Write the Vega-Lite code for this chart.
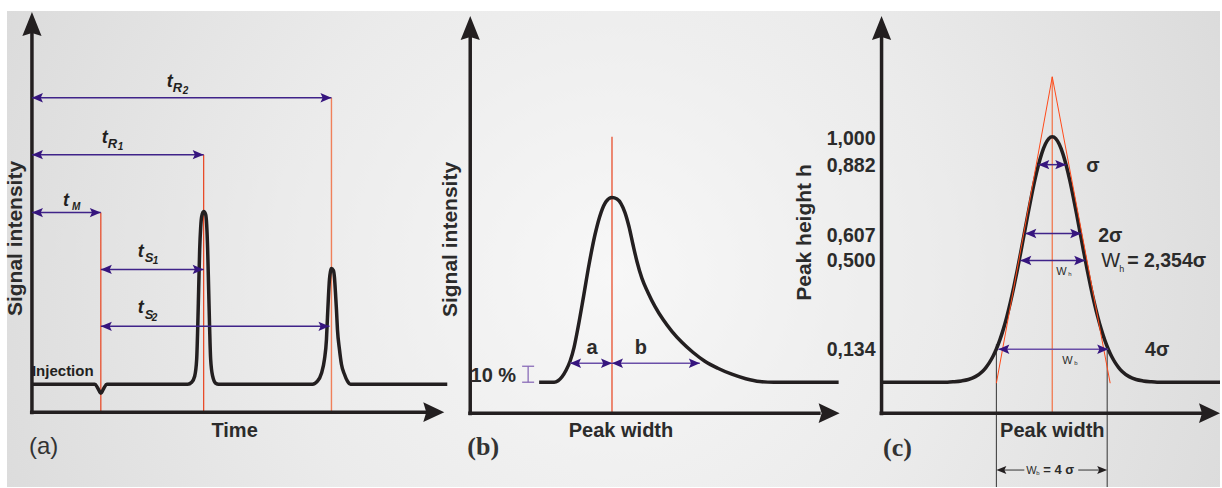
{
"$schema": "https://vega.github.io/schema/vega-lite/v6.json",
"width": 1222, "height": 488,
"autosize": {"type": "fit", "contains": "padding"},
"padding": 0,
"background": "#ffffff",
"config": {"view": {"stroke": null}, "axis": {"disable": true}, "legend": {"disable": true}},
"datasets": {
"bg": [{"x": 7, "x2": 1222, "y": 11, "y2": 488}],
"curves": [
{"id":"a","x":32,"y":385},{"id":"a","x":95,"y":385},{"id":"a","x":98,"y":389},{"id":"a","x":101,"y":394},{"id":"a","x":104,"y":389},{"id":"a","x":107,"y":385},{"id":"a","x":188,"y":385},{"id":"a","x":192,"y":383},{"id":"a","x":195,"y":377},{"id":"a","x":197,"y":360},{"id":"a","x":198,"y":330},{"id":"a","x":199,"y":290},{"id":"a","x":200,"y":250},{"id":"a","x":201,"y":228},{"id":"a","x":202,"y":217},{"id":"a","x":204,"y":212},{"id":"a","x":206,"y":215},{"id":"a","x":207,"y":225},{"id":"a","x":208,"y":250},{"id":"a","x":209,"y":290},{"id":"a","x":210,"y":330},{"id":"a","x":211,"y":360},{"id":"a","x":213,"y":377},{"id":"a","x":216,"y":384},{"id":"a","x":219,"y":385},{"id":"a","x":313,"y":385},{"id":"a","x":318,"y":382},{"id":"a","x":322,"y":374},{"id":"a","x":325,"y":360},{"id":"a","x":327,"y":340},{"id":"a","x":328,"y":318},{"id":"a","x":329,"y":297},{"id":"a","x":330,"y":280},{"id":"a","x":331,"y":272},{"id":"a","x":332,"y":269},{"id":"a","x":334,"y":271},{"id":"a","x":335,"y":278},{"id":"a","x":336,"y":293},{"id":"a","x":337,"y":310},{"id":"a","x":338,"y":330},{"id":"a","x":340,"y":350},{"id":"a","x":342,"y":365},{"id":"a","x":345,"y":375},{"id":"a","x":348,"y":382},{"id":"a","x":351,"y":385},{"id":"a","x":448,"y":385},
{"id":"b","x":540,"y":383},{"id":"b","x":555,"y":383},{"id":"b","x":559,"y":381.5},{"id":"b","x":563,"y":377.5},{"id":"b","x":567,"y":371},{"id":"b","x":571,"y":362},{"id":"b","x":575,"y":348},{"id":"b","x":579,"y":328},{"id":"b","x":584,"y":300},{"id":"b","x":590,"y":265},{"id":"b","x":596,"y":235},{"id":"b","x":602,"y":213},{"id":"b","x":607,"y":202},{"id":"b","x":613,"y":198},{"id":"b","x":618,"y":199.5},{"id":"b","x":622,"y":204},{"id":"b","x":626,"y":213},{"id":"b","x":630,"y":227},{"id":"b","x":634,"y":245},{"id":"b","x":638,"y":262},{"id":"b","x":643,"y":279},{"id":"b","x":649,"y":293},{"id":"b","x":656,"y":307},{"id":"b","x":664,"y":320},{"id":"b","x":673,"y":332},{"id":"b","x":683,"y":343},{"id":"b","x":694,"y":353},{"id":"b","x":706,"y":362},{"id":"b","x":719,"y":369},{"id":"b","x":733,"y":375},{"id":"b","x":747,"y":379.5},{"id":"b","x":761,"y":382.3},{"id":"b","x":775,"y":383},{"id":"b","x":840,"y":383},
{"id":"c","x":883,"y":383},{"id":"c","x":949,"y":383},{"id":"c","x":956,"y":382.5},{"id":"c","x":963,"y":381.7},{"id":"c","x":970,"y":380.3},{"id":"c","x":977,"y":377.4},{"id":"c","x":984,"y":372.2},{"id":"c","x":987.5,"y":368.3},{"id":"c","x":991,"y":363.4},{"id":"c","x":994.5,"y":357.3},{"id":"c","x":998,"y":349.7},{"id":"c","x":1001.5,"y":340.6},{"id":"c","x":1005,"y":329.8},{"id":"c","x":1008.5,"y":317.3},{"id":"c","x":1012,"y":303.1},{"id":"c","x":1015.5,"y":287.4},{"id":"c","x":1019,"y":270.4},{"id":"c","x":1022.5,"y":252.4},{"id":"c","x":1026,"y":233.8},{"id":"c","x":1029.5,"y":215.2},{"id":"c","x":1033,"y":197.3},{"id":"c","x":1036.5,"y":180.6},{"id":"c","x":1040,"y":165.9},{"id":"c","x":1043.5,"y":153.7},{"id":"c","x":1047,"y":144.6},{"id":"c","x":1050.5,"y":138.9},{"id":"c","x":1054,"y":137},{"id":"c","x":1057.5,"y":138.9},{"id":"c","x":1061,"y":144.6},{"id":"c","x":1064.5,"y":153.7},{"id":"c","x":1068,"y":165.9},{"id":"c","x":1071.5,"y":180.6},{"id":"c","x":1075,"y":197.3},{"id":"c","x":1078.5,"y":215.2},{"id":"c","x":1082,"y":233.8},{"id":"c","x":1085.5,"y":252.4},{"id":"c","x":1089,"y":270.4},{"id":"c","x":1092.5,"y":287.4},{"id":"c","x":1096,"y":303.1},{"id":"c","x":1099.5,"y":317.3},{"id":"c","x":1103,"y":329.8},{"id":"c","x":1106.5,"y":340.6},{"id":"c","x":1110,"y":349.7},{"id":"c","x":1113.5,"y":357.3},{"id":"c","x":1117,"y":363.4},{"id":"c","x":1120.5,"y":368.3},{"id":"c","x":1124,"y":372.2},{"id":"c","x":1131,"y":377.4},{"id":"c","x":1138,"y":380.3},{"id":"c","x":1145,"y":381.7},{"id":"c","x":1152,"y":382.5},{"id":"c","x":1159,"y":383},{"id":"c","x":1222,"y":383}
],
"segs": [
{"g":"axis","x":32,"y":415,"x2":32,"y2":32},{"g":"axis","x":30,"y":413,"x2":428,"y2":413},
{"g":"axis","x":471,"y":416,"x2":471,"y2":36},{"g":"axis","x":469,"y":414,"x2":822,"y2":414},
{"g":"axis","x":883,"y":416,"x2":883,"y2":36},{"g":"axis","x":881,"y":414,"x2":1205,"y2":414},
{"g":"red","x":101,"y":213,"x2":101,"y2":414},{"g":"red","x":204,"y":155,"x2":204,"y2":414},{"g":"red","x":613,"y":137,"x2":613,"y2":414},
{"g":"redsoft","x":332,"y":98,"x2":332,"y2":414},{"g":"redsoft","x":1054,"y":77,"x2":1054,"y2":414},
{"g":"tangent","x":1054,"y":77,"x2":998,"y2":384},{"g":"tangent","x":1054,"y":77,"x2":1112,"y2":384},
{"g":"thin","x":998,"y":345,"x2":998,"y2":488},{"g":"thin","x":1109,"y":345,"x2":1109,"y2":488},{"g":"thin","x":1005,"y":471,"x2":1026,"y2":471},{"g":"thin","x":1080,"y":471,"x2":1102,"y2":471},
{"g":"dim","x":32,"y":98,"x2":332,"y2":98},{"g":"dim","x":32,"y":155,"x2":204,"y2":155},{"g":"dim","x":32,"y":213,"x2":101,"y2":213},{"g":"dim","x":101,"y":270,"x2":204,"y2":270},{"g":"dim","x":101,"y":327,"x2":330,"y2":327},
{"g":"dim","x":1040,"y":165,"x2":1068,"y2":165},{"g":"dim","x":1027,"y":234,"x2":1083,"y2":234},{"g":"dim","x":1022,"y":261,"x2":1087,"y2":261},{"g":"dimlight","x":1000,"y":350,"x2":1110,"y2":350},
{"g":"dimlight","x":571,"y":364,"x2":613,"y2":364},{"g":"dimlight","x":613,"y":364,"x2":701,"y2":364},
{"g":"bracket","x":529,"y":367,"x2":529,"y2":383},{"g":"bracket","x":523,"y":367,"x2":535,"y2":367},{"g":"bracket","x":523,"y":383,"x2":535,"y2":383}
],
"heads": [
{"g":"axis","dir":"U","x":32,"y":12},{"g":"axis","dir":"U","x":471,"y":16},{"g":"axis","dir":"U","x":883,"y":16},
{"g":"axis","dir":"R","x":445,"y":413},{"g":"axis","dir":"R","x":841,"y":414},{"g":"axis","dir":"R","x":1222,"y":414},
{"g":"dim","dir":"L","x":32,"y":98},{"g":"dim","dir":"R","x":332,"y":98},{"g":"dim","dir":"L","x":32,"y":155},{"g":"dim","dir":"R","x":204,"y":155},{"g":"dim","dir":"L","x":32,"y":213},{"g":"dim","dir":"R","x":101,"y":213},{"g":"dim","dir":"L","x":101,"y":270},{"g":"dim","dir":"R","x":204,"y":270},{"g":"dim","dir":"L","x":101,"y":327},{"g":"dim","dir":"R","x":330,"y":327},
{"g":"dim","dir":"L","x":571,"y":364},{"g":"dim","dir":"R","x":613,"y":364},{"g":"dim","dir":"L","x":613,"y":364},{"g":"dim","dir":"R","x":701,"y":364},
{"g":"dim","dir":"L","x":1040,"y":165},{"g":"dim","dir":"R","x":1068,"y":165},{"g":"dim","dir":"L","x":1027,"y":234},{"g":"dim","dir":"R","x":1083,"y":234},{"g":"dim","dir":"L","x":1022,"y":261},{"g":"dim","dir":"R","x":1087,"y":261},{"g":"dim","dir":"L","x":1000,"y":350},{"g":"dim","dir":"R","x":1110,"y":350},
{"g":"small","dir":"L","x":998,"y":471},{"g":"small","dir":"R","x":1109,"y":471}
],
"labels": [
{"g":"ylab","t":"Signal intensity","x":16,"y":239},{"g":"ylab","t":"Signal intensity","x":452,"y":240},{"g":"ylab","t":"Peak height  h","x":806,"y":233},
{"g":"xlab","t":"Time","x":235,"y":438},{"g":"xlab","t":"Peak width","x":622,"y":438},{"g":"xlab","t":"Peak width","x":1054,"y":438},
{"g":"tick","t":"1,000","x":877,"y":145},{"g":"tick","t":"0,882","x":877,"y":172},{"g":"tick","t":"0,607","x":877,"y":242},{"g":"tick","t":"0,500","x":877,"y":268},{"g":"tick","t":"0,134","x":877,"y":357},
{"g":"sym","t":"σ","x":1088,"y":172},{"g":"sym","t":"2σ","x":1100,"y":242},{"g":"sym","t":"= 2,354σ","x":1129,"y":268},{"g":"sym","t":"4σ","x":1147,"y":357},
{"g":"wbig","t":"W","x":1103,"y":268},{"g":"wbigsub","t":"h","x":1121,"y":273},
{"g":"tit","t":"t","x":167,"y":87},{"g":"tit","t":"t","x":102,"y":143},{"g":"tit","t":"t","x":63,"y":206},{"g":"tit","t":"t","x":138,"y":258},{"g":"tit","t":"t","x":138,"y":314},
{"g":"tsub","t":"R","x":173,"y":92},{"g":"tsub","t":"R","x":108,"y":148},{"g":"tsub","t":"S","x":145,"y":263},{"g":"tsub","t":"S","x":145,"y":320},
{"g":"tsub2","t":"2","x":183,"y":94},{"g":"tsub2","t":"1","x":118,"y":150},{"g":"tsub2","t":"M","x":72,"y":210},{"g":"tsub2","t":"1","x":153,"y":265},{"g":"tsub2","t":"2","x":152,"y":322},
{"g":"inj","t":"Injection","x":32,"y":377},
{"g":"pa","t":"(a)","x":29,"y":455},
{"g":"pbc","t":"(b)","x":484,"y":456},{"g":"pbc","t":"(c)","x":899,"y":457},
{"g":"pct","t":"10 %","x":517,"y":383},
{"g":"ab","t":"a","x":593,"y":355},{"g":"ab","t":"b","x":642,"y":355},
{"g":"wsmall","t":"W","x":1058,"y":276},{"g":"wsmall","t":"W","x":1064,"y":365},{"g":"wsmall","t":"W","x":1028,"y":475},
{"g":"wsub","t":"h","x":1070,"y":277},{"g":"wsub","t":"b","x":1076,"y":366},{"g":"wsub","t":"b","x":1038,"y":476},
{"g":"wb4","t":"= 4 σ","x":1045,"y":475}
]
},
"encoding": {
"x": {"field": "x", "type": "quantitative", "scale": {"domain": [0, 1222], "nice": false, "zero": false}},
"y": {"field": "y", "type": "quantitative", "scale": {"domain": [0, 488], "nice": false, "zero": false, "reverse": true}}
},
"layer": [
{"data": {"name": "bg"}, "mark": {"type": "rect", "color": {"gradient": "radial", "x1": 0.5, "y1": 0.52, "r1": 0, "x2": 0.5, "y2": 0.52, "r2": 0.62, "stops": [{"offset": 0, "color": "#f7f7f7"}, {"offset": 0.45, "color": "#ebebeb"}, {"offset": 1, "color": "#d7d7d7"}]}}, "encoding": {"x2": {"field": "x2"}, "y2": {"field": "y2"}}},
{"data": {"name": "segs"}, "transform": [{"filter": "datum.g == 'red'"}], "mark": {"type": "rule", "color": "#e8401c", "strokeWidth": 1.2}, "encoding": {"x2": {"field": "x2"}, "y2": {"field": "y2"}}},
{"data": {"name": "segs"}, "transform": [{"filter": "datum.g == 'redsoft'"}], "mark": {"type": "rule", "color": "#f0805a", "strokeWidth": 1.4}, "encoding": {"x2": {"field": "x2"}, "y2": {"field": "y2"}}},
{"data": {"name": "segs"}, "transform": [{"filter": "datum.g == 'thin'"}], "mark": {"type": "rule", "color": "#333333", "strokeWidth": 1}, "encoding": {"x2": {"field": "x2"}, "y2": {"field": "y2"}}},
{"data": {"name": "curves"}, "mark": {"type": "line", "color": "#231f20", "strokeWidth": 3.5, "interpolate": "monotone", "strokeJoin": "round"}, "encoding": {"detail": {"field": "id"}}},
{"data": {"name": "segs"}, "transform": [{"filter": "datum.g == 'tangent'"}], "mark": {"type": "rule", "color": "#ff4a1a", "strokeWidth": 1}, "encoding": {"x2": {"field": "x2"}, "y2": {"field": "y2"}}},
{"data": {"name": "segs"}, "transform": [{"filter": "datum.g == 'axis'"}], "mark": {"type": "rule", "color": "#231f20", "strokeWidth": 3.5}, "encoding": {"x2": {"field": "x2"}, "y2": {"field": "y2"}}},
{"data": {"name": "segs"}, "transform": [{"filter": "datum.g == 'dim'"}], "mark": {"type": "rule", "color": "#3f2389", "strokeWidth": 1.5}, "encoding": {"x2": {"field": "x2"}, "y2": {"field": "y2"}}},
{"data": {"name": "segs"}, "transform": [{"filter": "datum.g == 'dimlight'"}], "mark": {"type": "rule", "color": "#6a4fa8", "strokeWidth": 1.4}, "encoding": {"x2": {"field": "x2"}, "y2": {"field": "y2"}}},
{"data": {"name": "segs"}, "transform": [{"filter": "datum.g == 'bracket'"}], "mark": {"type": "rule", "color": "#8a6cb8", "strokeWidth": 1.3}, "encoding": {"x2": {"field": "x2"}, "y2": {"field": "y2"}}},
{"data": {"name": "heads"}, "transform": [{"filter": "datum.g == 'axis' && datum.dir == 'U'"}], "mark": {"type": "point", "filled": true, "opacity": 1, "color": "#231f20", "size": 576, "shape": "M0,0 L0.8,2 L0,1.75 L-0.8,2 Z"}},
{"data": {"name": "heads"}, "transform": [{"filter": "datum.g == 'axis' && datum.dir == 'R'"}], "mark": {"type": "point", "filled": true, "opacity": 1, "color": "#231f20", "size": 576, "shape": "M0,0 L-1.75,-0.83 L-1.5,0 L-1.75,0.83 Z"}},
{"data": {"name": "heads"}, "transform": [{"filter": "datum.g == 'dim' && datum.dir == 'R'"}], "mark": {"type": "point", "filled": true, "opacity": 1, "color": "#36157e", "size": 121, "shape": "M0,0 L-2,-0.85 L-1.6,0 L-2,0.85 Z"}},
{"data": {"name": "heads"}, "transform": [{"filter": "datum.g == 'dim' && datum.dir == 'L'"}], "mark": {"type": "point", "filled": true, "opacity": 1, "color": "#36157e", "size": 121, "shape": "M0,0 L2,-0.85 L1.6,0 L2,0.85 Z"}},
{"data": {"name": "heads"}, "transform": [{"filter": "datum.g == 'small' && datum.dir == 'R'"}], "mark": {"type": "point", "filled": true, "opacity": 1, "color": "#231f20", "size": 100, "shape": "M0,0 L-2,-0.8 L-1.6,0 L-2,0.8 Z"}},
{"data": {"name": "heads"}, "transform": [{"filter": "datum.g == 'small' && datum.dir == 'L'"}], "mark": {"type": "point", "filled": true, "opacity": 1, "color": "#231f20", "size": 100, "shape": "M0,0 L2,-0.8 L1.6,0 L2,0.8 Z"}},
{"data": {"name": "labels"}, "transform": [{"filter": "datum.g == 'ylab'"}], "mark": {"type": "text", "angle": 270, "align": "center", "baseline": "middle", "font": "Liberation Sans", "fontWeight": "bold", "fontSize": 21, "color": "#2b2b2b"}, "encoding": {"text": {"field": "t"}}},
{"data": {"name": "labels"}, "transform": [{"filter": "datum.g == 'xlab'"}], "mark": {"type": "text", "align": "center", "baseline": "alphabetic", "font": "Liberation Sans", "fontWeight": "bold", "fontSize": 20, "color": "#2b2b2b"}, "encoding": {"text": {"field": "t"}}},
{"data": {"name": "labels"}, "transform": [{"filter": "datum.g == 'tick'"}], "mark": {"type": "text", "align": "right", "baseline": "alphabetic", "font": "Liberation Sans", "fontWeight": "bold", "fontSize": 19.5, "color": "#2b2b2b"}, "encoding": {"text": {"field": "t"}}},
{"data": {"name": "labels"}, "transform": [{"filter": "datum.g == 'sym'"}], "mark": {"type": "text", "align": "left", "baseline": "alphabetic", "font": "Liberation Sans", "fontWeight": "bold", "fontSize": 19.5, "color": "#2b2b2b"}, "encoding": {"text": {"field": "t"}}},
{"data": {"name": "labels"}, "transform": [{"filter": "datum.g == 'wbig'"}], "mark": {"type": "text", "align": "left", "baseline": "alphabetic", "font": "Liberation Sans", "fontSize": 20, "color": "#2b2b2b"}, "encoding": {"text": {"field": "t"}}},
{"data": {"name": "labels"}, "transform": [{"filter": "datum.g == 'wbigsub'"}], "mark": {"type": "text", "align": "left", "baseline": "alphabetic", "font": "Liberation Sans", "fontSize": 9, "color": "#2b2b2b"}, "encoding": {"text": {"field": "t"}}},
{"data": {"name": "labels"}, "transform": [{"filter": "datum.g == 'tit'"}], "mark": {"type": "text", "align": "left", "baseline": "alphabetic", "font": "Liberation Sans", "fontWeight": "bold", "fontStyle": "italic", "fontSize": 18, "color": "#231f20"}, "encoding": {"text": {"field": "t"}}},
{"data": {"name": "labels"}, "transform": [{"filter": "datum.g == 'tsub'"}], "mark": {"type": "text", "align": "left", "baseline": "alphabetic", "font": "Liberation Sans", "fontWeight": "bold", "fontStyle": "italic", "fontSize": 13, "color": "#231f20"}, "encoding": {"text": {"field": "t"}}},
{"data": {"name": "labels"}, "transform": [{"filter": "datum.g == 'tsub2'"}], "mark": {"type": "text", "align": "left", "baseline": "alphabetic", "font": "Liberation Sans", "fontWeight": "bold", "fontStyle": "italic", "fontSize": 10, "color": "#231f20"}, "encoding": {"text": {"field": "t"}}},
{"data": {"name": "labels"}, "transform": [{"filter": "datum.g == 'inj'"}], "mark": {"type": "text", "align": "left", "baseline": "alphabetic", "font": "Liberation Sans", "fontWeight": "bold", "fontSize": 15, "color": "#231f20"}, "encoding": {"text": {"field": "t"}}},
{"data": {"name": "labels"}, "transform": [{"filter": "datum.g == 'pa'"}], "mark": {"type": "text", "align": "left", "baseline": "alphabetic", "font": "Liberation Sans", "fontSize": 24, "color": "#333333"}, "encoding": {"text": {"field": "t"}}},
{"data": {"name": "labels"}, "transform": [{"filter": "datum.g == 'pbc'"}], "mark": {"type": "text", "align": "center", "baseline": "alphabetic", "font": "Liberation Serif", "fontWeight": "bold", "fontSize": 26, "color": "#333333"}, "encoding": {"text": {"field": "t"}}},
{"data": {"name": "labels"}, "transform": [{"filter": "datum.g == 'pct'"}], "mark": {"type": "text", "align": "right", "baseline": "alphabetic", "font": "Liberation Sans", "fontWeight": "bold", "fontSize": 20, "color": "#2b2b2b"}, "encoding": {"text": {"field": "t"}}},
{"data": {"name": "labels"}, "transform": [{"filter": "datum.g == 'ab'"}], "mark": {"type": "text", "align": "center", "baseline": "alphabetic", "font": "Liberation Sans", "fontWeight": "bold", "fontSize": 20, "color": "#2b2b2b"}, "encoding": {"text": {"field": "t"}}},
{"data": {"name": "labels"}, "transform": [{"filter": "datum.g == 'wsmall'"}], "mark": {"type": "text", "align": "left", "baseline": "alphabetic", "font": "Liberation Sans", "fontSize": 11, "color": "#2b2b2b"}, "encoding": {"text": {"field": "t"}}},
{"data": {"name": "labels"}, "transform": [{"filter": "datum.g == 'wsub'"}], "mark": {"type": "text", "align": "left", "baseline": "alphabetic", "font": "Liberation Sans", "fontSize": 6, "color": "#2b2b2b"}, "encoding": {"text": {"field": "t"}}},
{"data": {"name": "labels"}, "transform": [{"filter": "datum.g == 'wb4'"}], "mark": {"type": "text", "align": "left", "baseline": "alphabetic", "font": "Liberation Sans", "fontWeight": "bold", "fontSize": 13, "color": "#2b2b2b"}, "encoding": {"text": {"field": "t"}}}
]
}
